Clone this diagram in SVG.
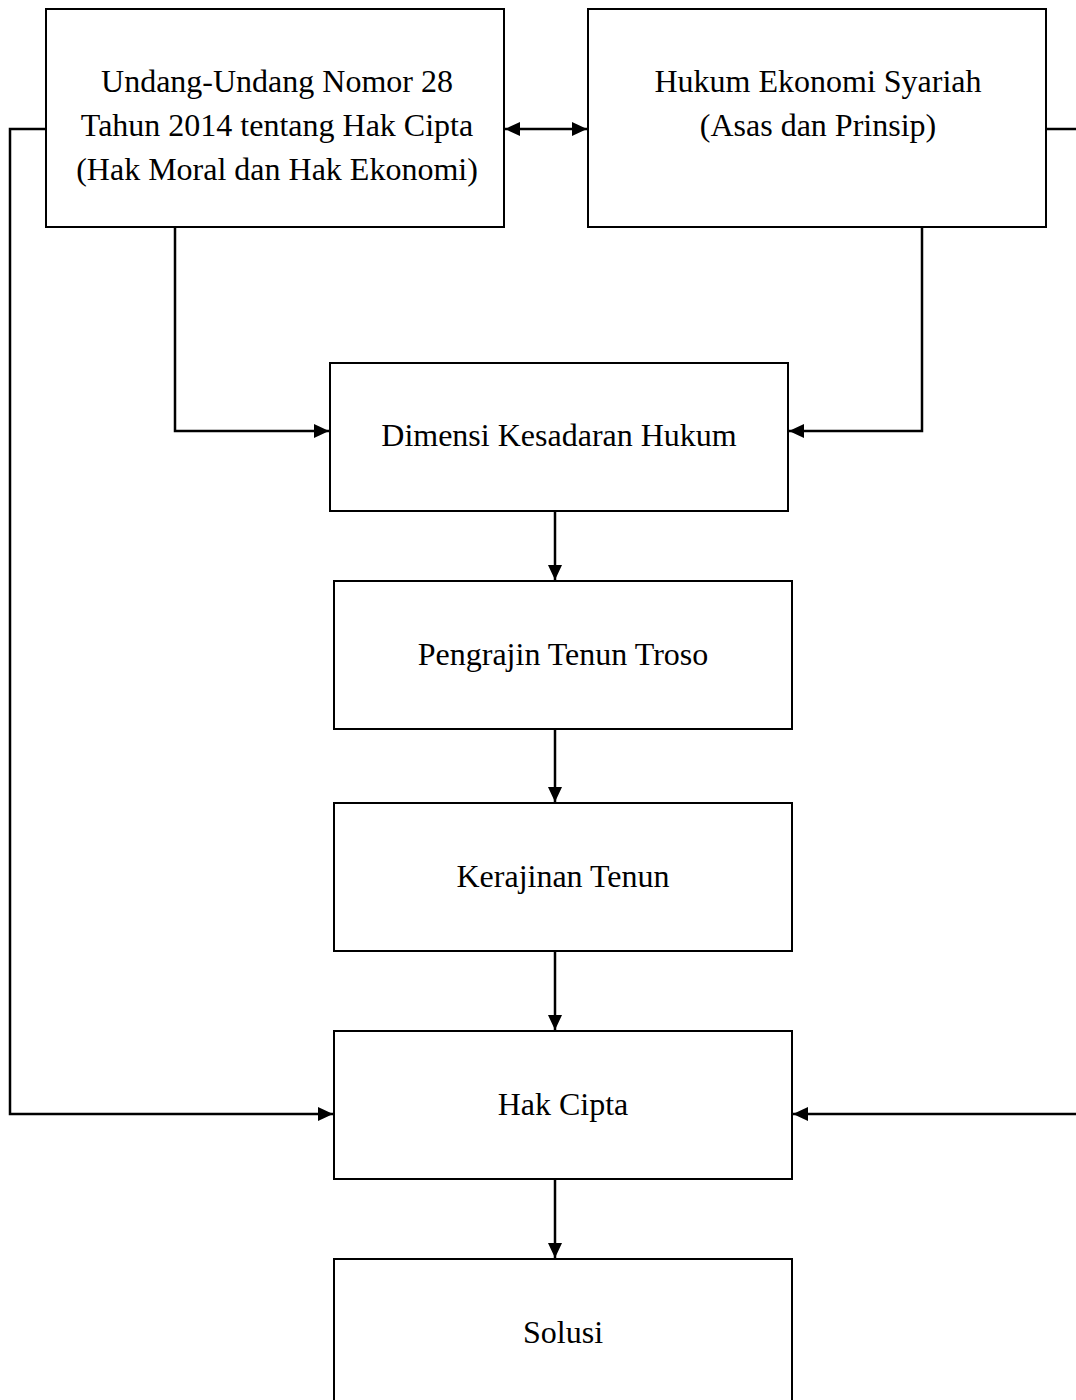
<svg xmlns="http://www.w3.org/2000/svg" width="1076" height="1400" viewBox="0 0 1076 1400">
<defs>
<marker id="ah" viewBox="0 0 15 14" refX="15" refY="7" markerWidth="15" markerHeight="14" markerUnits="userSpaceOnUse" orient="auto-start-reverse">
<path d="M0,0 L15,7 L0,14 Z" fill="#000"/>
</marker>
</defs>
<style>
.box{fill:#fff;stroke:#000;stroke-width:2}
.t{font-family:"Liberation Serif","Times New Roman",serif;font-size:32px;fill:#000;text-anchor:middle}
.c{fill:none;stroke:#000;stroke-width:2.5}
</style>
<rect width="1076" height="1400" fill="#fff"/>
<g id="connectors">
<line class="c" x1="505" y1="129" x2="587" y2="129" marker-start="url(#ah)" marker-end="url(#ah)"/>
<polyline class="c" points="46,129 10,129 10,1114 333,1114" marker-end="url(#ah)"/>
<polyline class="c" points="1046,129 1080,129 1080,1114 793,1114" marker-end="url(#ah)"/>
<polyline class="c" points="175,227 175,431 329,431" marker-end="url(#ah)"/>
<polyline class="c" points="922,227 922,431 789,431" marker-end="url(#ah)"/>
<line class="c" x1="555" y1="511" x2="555" y2="580" marker-end="url(#ah)"/>
<line class="c" x1="555" y1="729" x2="555" y2="802" marker-end="url(#ah)"/>
<line class="c" x1="555" y1="951" x2="555" y2="1030" marker-end="url(#ah)"/>
<line class="c" x1="555" y1="1179" x2="555" y2="1258" marker-end="url(#ah)"/>
</g>
<g id="n1">
<rect class="box" x="46" y="9" width="458" height="218"/>
<text class="t" x="277" y="92">Undang-Undang Nomor 28</text>
<text class="t" x="277" y="136">Tahun 2014 tentang Hak Cipta</text>
<text class="t" x="277" y="180">(Hak Moral dan Hak Ekonomi)</text>
</g>
<g id="n2">
<rect class="box" x="588" y="9" width="458" height="218"/>
<text class="t" x="818" y="92">Hukum Ekonomi Syariah</text>
<text class="t" x="818" y="136">(Asas dan Prinsip)</text>
</g>
<g id="n3">
<rect class="box" x="330" y="363" width="458" height="148"/>
<text class="t" x="559" y="446">Dimensi Kesadaran Hukum</text>
</g>
<g id="n4">
<rect class="box" x="334" y="581" width="458" height="148"/>
<text class="t" x="563" y="665">Pengrajin Tenun Troso</text>
</g>
<g id="n5">
<rect class="box" x="334" y="803" width="458" height="148"/>
<text class="t" x="563" y="887">Kerajinan Tenun</text>
</g>
<g id="n6">
<rect class="box" x="334" y="1031" width="458" height="148"/>
<text class="t" x="563" y="1115">Hak Cipta</text>
</g>
<g id="n7">
<rect class="box" x="334" y="1259" width="458" height="160"/>
<text class="t" x="563" y="1343">Solusi</text>
</g>
</svg>
